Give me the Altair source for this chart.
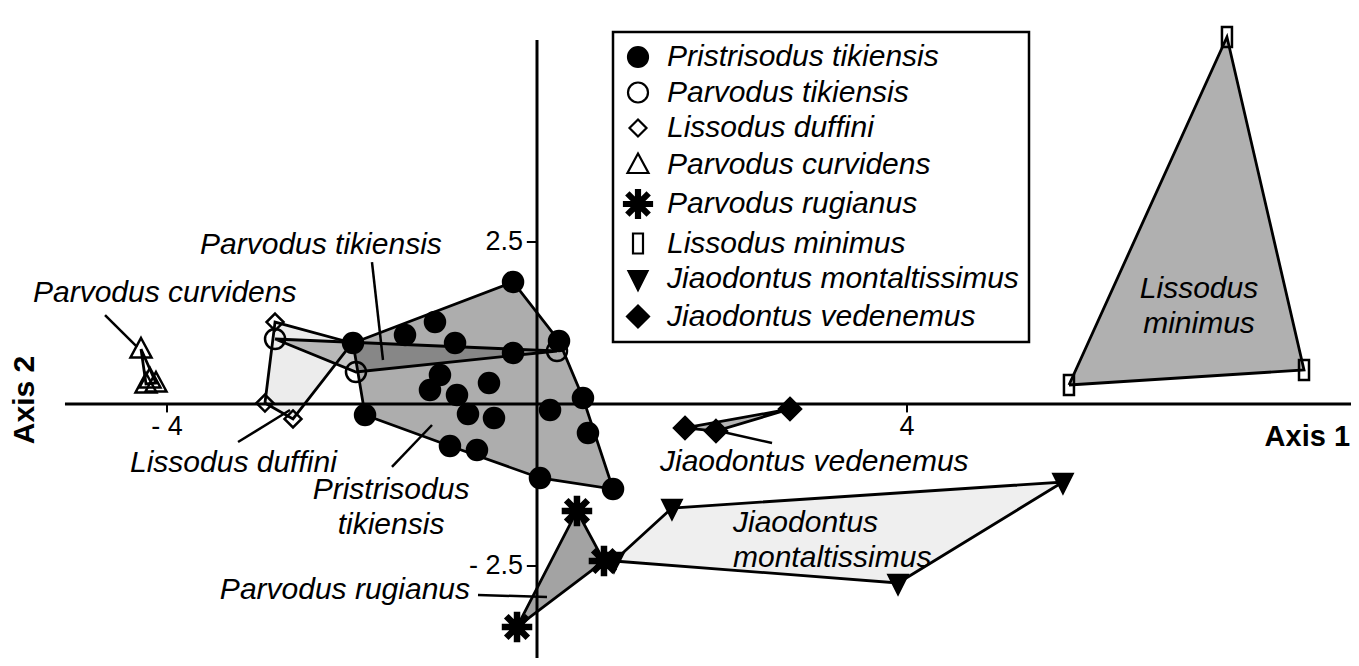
import math
import altair as alt
import pandas as pd

# ---------------- data (axis units) ----------------
species = [
    "Pristrisodus tikiensis", "Parvodus tikiensis", "Lissodus duffini",
    "Parvodus curvidens", "Parvodus rugianus", "Lissodus minimus",
    "Jiaodontus montaltissimus", "Jiaodontus vedenemus",
]

pristrisodus_x = [-0.259, -1.103, -1.427, -1.989, -0.886, -0.259, 0.238, -1.049, -1.157, -0.865, -0.519,
                  0.497, -1.859, -0.746, -0.465, 0.141, 0.551, -0.941, -0.649, 0.032, 0.822]
pristrisodus_y = [1.883, 1.265, 1.065, 0.941, 0.941, 0.787, 0.972, 0.448, 0.216, 0.139, 0.324,
                  0.093, -0.170, -0.154, -0.216, -0.093, -0.448, -0.648, -0.710, -1.142, -1.312]
parvodus_tik_x = [-2.832, -1.957, 0.216]
parvodus_tik_y = [1.003, 0.494, 0.818]
duffini_x = [-2.832, -2.0, -2.638, -2.941]
duffini_y = [1.265, 0.941, -0.231, 0.015]
curvidens_x = [-4.281, -4.227, -4.184, -4.119]
curvidens_y = [0.849, 0.309, 0.386, 0.324]
rugianus_x = [0.432, 0.724, -0.216]
rugianus_y = [-1.651, -2.423, -3.441]
minimus_x = [7.459, 5.751, 8.292]
minimus_y = [5.664, 0.293, 0.525]
montalt_x = [0.832, 1.459, 5.686, 3.903]
montalt_y = [-2.423, -1.605, -1.204, -2.762]
vedenemus_x = [1.600, 1.935, 2.735]
vedenemus_y = [-0.370, -0.417, -0.077]

series = {
    "Lissodus duffini": (duffini_x, duffini_y),
    "Parvodus curvidens": (curvidens_x, curvidens_y),
    "Jiaodontus montaltissimus": (montalt_x, montalt_y),
    "Parvodus tikiensis": (parvodus_tik_x, parvodus_tik_y),
    "Parvodus rugianus": (rugianus_x, rugianus_y),
    "Lissodus minimus": (minimus_x, minimus_y),
    "Jiaodontus vedenemus": (vedenemus_x, vedenemus_y),
    "Pristrisodus tikiensis": (pristrisodus_x, pristrisodus_y),
}

tick_x_values = [-4, 4]
tick_x_labels = ["- 4", "4"]
tick_y_values = [2.5, -2.5]
tick_y_labels = ["2.5", "- 2.5"]

label_texts = ["Parvodus tikiensis", "Parvodus curvidens", "Lissodus duffini", "Pristrisodus\ntikiensis",
               "Parvodus rugianus", "Jiaodontus vedenemus", "Jiaodontus\nmontaltissimus", "Lissodus\nminimus"]
label_x = [-3.643, -5.449, -4.40, -1.578, -0.724, 1.330, 2.119, 7.157]
label_y = [2.454, 1.713, -0.910, -1.32, -2.870, -0.895, -1.84, 1.78]
label_align = ["left", "left", "left", "center", "right", "left", "left", "center"]

leader_x = [-1.784, -4.670, -3.232, -1.568, -0.638, 2.011]
leader_y = [2.191, 1.373, -0.586, -0.972, -2.948, -0.432]
leader_x2 = [-1.665, -4.324, -2.670, -1.135, 0.108, 2.541]
leader_y2 = [0.679, 0.880, -0.093, -0.324, -2.978, -0.602]

# ---------------- styles ----------------
poly_style = {
    "Lissodus duffini": ("#ececec", 1.0),
    "Parvodus curvidens": ("#ffffff", 1.0),
    "Jiaodontus montaltissimus": ("#efefef", 1.0),
    "Pristrisodus tikiensis": ("#adadad", 1.0),
    "Parvodus tikiensis": ("#000000", 0.22),
    "Parvodus rugianus": ("#a3a3a3", 1.0),
    "Lissodus minimus": ("#b0b0b0", 1.0),
    "Jiaodontus vedenemus": ("#b5b5b5", 1.0),
}


def asterisk_path(L=1.4, w=0.2):
    parts = []
    for deg in (0, 45, 90, 135):
        a = math.radians(deg)
        c, s = math.cos(a), math.sin(a)
        pts = [(-L, -w), (L, -w), (L, w), (-L, w)]
        rp = [(px * c - py * s, px * s + py * c) for px, py in pts]
        parts.append("M" + "L".join(f"{px:.3f},{py:.3f}" for px, py in rp) + "Z")
    return "".join(parts)


shape_range = [
    "circle",
    "circle",
    "M0,-0.85L0.85,0L0,0.85L-0.85,0Z",
    "M0,-1.1L1.05,0.85L-1.05,0.85Z",
    asterisk_path(),
    "M-0.5,-1L0.5,-1L0.5,1L-0.5,1Z",
    "M-0.95,-0.8L0.95,-0.8L0,1.1Z",
    "M0,-1.1L1.1,0L0,1.1L-1.1,0Z",
]
fill_range = ["black", "transparent", "transparent", "transparent", "black", "transparent", "black", "black"]
stroke_range = ["black"] * 8

W, H = 1343, 650
xscale = alt.Scale(domain=[-5.7189, 8.8], zero=False, nice=False)
yscale = alt.Scale(domain=[-3.9198, 6.1111], zero=False, nice=False)
FONT = "Liberation Sans"


def X(f):
    return alt.X(f, type="quantitative", scale=xscale, axis=None)


def Y(f):
    return alt.Y(f, type="quantitative", scale=yscale, axis=None)


# ---------------- tables ----------------
rows = []
for sp, (xs, ys) in series.items():
    for xv, yv in zip(xs, ys):
        rows.append({"species": sp, "x": xv, "y": yv})
pts = pd.DataFrame(rows)


def hull(p):
    p = sorted(set(p))

    def cross(o, a, b):
        return (a[0] - o[0]) * (b[1] - o[1]) - (a[1] - o[1]) * (b[0] - o[0])
    lower, upper = [], []
    for q in p:
        while len(lower) >= 2 and cross(lower[-2], lower[-1], q) <= 0:
            lower.pop()
        lower.append(q)
    for q in reversed(p):
        while len(upper) >= 2 and cross(upper[-2], upper[-1], q) <= 0:
            upper.pop()
        upper.append(q)
    return lower[:-1] + upper[:-1]


layers = []
for sp, (fill, op) in poly_style.items():
    xs, ys = series[sp]
    h = hull(list(zip(xs, ys)))
    h = h + [h[0]]
    dfp = pd.DataFrame({"x": [a for a, b in h], "y": [b for a, b in h], "i": list(range(len(h)))})
    layers.append(
        alt.Chart(dfp).mark_line(filled=True, fill=fill, fillOpacity=op, stroke="black",
                                 strokeWidth=2.8, strokeJoin="miter", strokeMiterLimit=10)
        .encode(x=X("x"), y=Y("y"), order=alt.Order("i:Q"))
    )

# axes lines and ticks
axis_df = pd.DataFrame({
    "x": [-5.103, 0.0], "x2": [9.0, 0.0],
    "y": [0.0, 5.617], "y2": [0.0, -4.2],
})
layers.append(alt.Chart(axis_df).mark_rule(color="black", strokeWidth=3)
              .encode(x=X("x"), x2="x2", y=Y("y"), y2="y2"))
xt = pd.DataFrame({"x": tick_x_values, "y": [0.0] * 2, "y2": [-0.13] * 2, "lab": tick_x_labels})
yt = pd.DataFrame({"y": tick_y_values, "x": [-0.11] * 2, "x2": [0.0] * 2, "lab": tick_y_labels})
layers.append(alt.Chart(xt).mark_rule(color="black", strokeWidth=2)
              .encode(x=X("x"), y=Y("y"), y2="y2"))
layers.append(alt.Chart(yt).mark_rule(color="black", strokeWidth=2)
              .encode(x=X("x"), x2="x2", y=Y("y")))
layers.append(alt.Chart(xt).mark_text(font=FONT, fontSize=27, align="center", baseline="top", dy=10, color="black")
              .encode(x=X("x"), y=Y("y"), text="lab:N"))
layers.append(alt.Chart(yt).mark_text(font=FONT, fontSize=27, align="right", baseline="middle", dx=-14, color="black")
              .encode(x=X("x2"), y=Y("y"), text="lab:N"))

# leader lines
lead = pd.DataFrame({"x": leader_x, "y": leader_y, "x2": leader_x2, "y2": leader_y2})
layers.append(alt.Chart(lead).mark_rule(color="black", strokeWidth=2.5)
              .encode(x=X("x"), x2="x2", y=Y("y"), y2="y2"))

# points with legend
leg = dict(title=None, orient="none", legendX=605, legendY=24)
layers.append(
    alt.Chart(pts).mark_point(filled=True, opacity=1, size=400, strokeWidth=2.5)
    .encode(
        x=X("x"), y=Y("y"),
        shape=alt.Shape("species:N", scale=alt.Scale(domain=species, range=shape_range),
                        legend=alt.Legend(**leg)),
        fill=alt.Fill("species:N", scale=alt.Scale(domain=species, range=fill_range),
                      legend=alt.Legend(**leg)),
        stroke=alt.Stroke("species:N", scale=alt.Scale(domain=species, range=stroke_range),
                          legend=alt.Legend(**leg)),
    )
)

# labels
lab = pd.DataFrame({"t": label_texts, "x": label_x, "y": label_y, "a": label_align})
for al in ["left", "center", "right"]:
    sub = lab[lab.a == al]
    layers.append(
        alt.Chart(sub).mark_text(font=FONT, fontStyle="italic", fontSize=30, align=al, baseline="middle",
                                 lineBreak="\n", lineHeight=35, color="black")
        .encode(x=X("x"), y=Y("y"), text="t:N")
    )

axis_titles = pd.DataFrame({"t": ["Axis 1"], "x": [8.79], "y": [-0.509]})
layers.append(alt.Chart(axis_titles).mark_text(font=FONT, fontWeight="bold", fontSize=29, align="right",
                                               baseline="middle", color="black")
              .encode(x=X("x"), y=Y("y"), text="t:N"))
axis_titles2 = pd.DataFrame({"t": ["Axis 2"], "x": [-5.535], "y": [0.062]})
layers.append(alt.Chart(axis_titles2).mark_text(font=FONT, fontWeight="bold", fontSize=30, align="center",
                                                baseline="middle", angle=270, color="black")
              .encode(x=X("x"), y=Y("y"), text="t:N"))

chart = (
    alt.layer(*layers)
    .properties(width=W, height=H, autosize=alt.AutoSizeParams(type="none"), padding=0)
    .configure_view(strokeWidth=0)
    .configure_legend(
        symbolSize=400, symbolStrokeWidth=2.2, symbolStrokeColor="black",
        labelFont=FONT, labelFontStyle="italic", labelFontSize=30, labelColor="black",
        labelOffset=14, labelLimit=500, padding=10, rowPadding=5.5,
        strokeColor="black", strokeWidth=2.5, fillColor="white",
    )
)
chart.save("out.html", embed_options={"renderer": "svg", "actions": False})
